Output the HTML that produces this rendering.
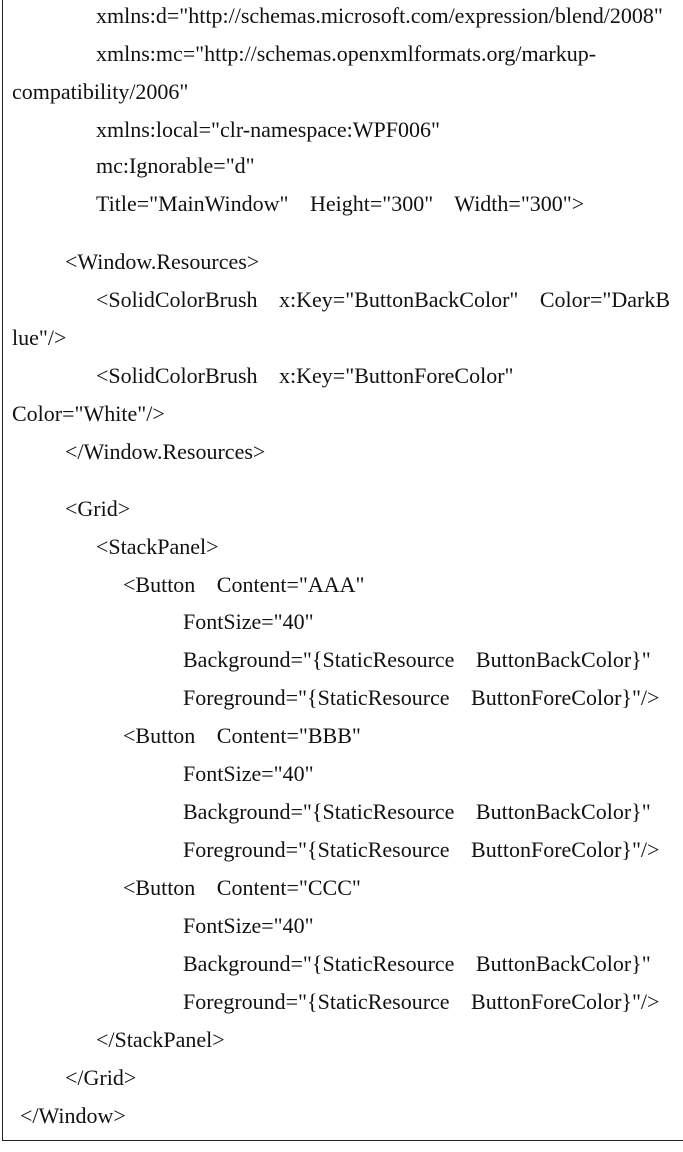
<!DOCTYPE html>
<html><head><meta charset="utf-8"><style>
html,body{margin:0;padding:0;background:#fff;}
body{width:683px;height:1152px;position:relative;overflow:hidden;font-family:"Liberation Serif","Times New Roman",serif;font-size:22px;color:#111;}
.b{position:absolute;left:2px;top:-2px;width:690px;height:1142px;border-left:1px solid #222;border-bottom:1px solid #222;}
.l{position:absolute;white-space:pre;line-height:22px;word-spacing:16px;}
</style></head><body>
<div class="b"></div>
<div class="l" style="left:96px;top:5px">xmlns:d="http://schemas.microsoft.com/expression/blend/2008"</div>
<div class="l" style="left:96px;top:43px">xmlns:mc="http://schemas.openxmlformats.org/markup-</div>
<div class="l" style="left:12px;top:81px">compatibility/2006"</div>
<div class="l" style="left:96px;top:119px">xmlns:local="clr-namespace:WPF006"</div>
<div class="l" style="left:96px;top:155px">mc:Ignorable="d"</div>
<div class="l" style="left:96px;top:193px">Title="MainWindow" Height="300" Width="300"&gt;</div>
<div class="l" style="left:65px;top:251px">&lt;Window.Resources&gt;</div>
<div class="l" style="left:96px;top:289px">&lt;SolidColorBrush x:Key="ButtonBackColor" Color="DarkB</div>
<div class="l" style="left:12px;top:327px">lue"/&gt;</div>
<div class="l" style="left:96px;top:365px">&lt;SolidColorBrush x:Key="ButtonForeColor"</div>
<div class="l" style="left:12px;top:403px">Color="White"/&gt;</div>
<div class="l" style="left:65px;top:441px">&lt;/Window.Resources&gt;</div>
<div class="l" style="left:65px;top:498px">&lt;Grid&gt;</div>
<div class="l" style="left:96px;top:536px">&lt;StackPanel&gt;</div>
<div class="l" style="left:123px;top:574px">&lt;Button Content="AAA"</div>
<div class="l" style="left:183px;top:611px">FontSize="40"</div>
<div class="l" style="left:183px;top:649px">Background="{StaticResource ButtonBackColor}"</div>
<div class="l" style="left:183px;top:687px">Foreground="{StaticResource ButtonForeColor}"/&gt;</div>
<div class="l" style="left:123px;top:725px">&lt;Button Content="BBB"</div>
<div class="l" style="left:183px;top:763px">FontSize="40"</div>
<div class="l" style="left:183px;top:801px">Background="{StaticResource ButtonBackColor}"</div>
<div class="l" style="left:183px;top:839px">Foreground="{StaticResource ButtonForeColor}"/&gt;</div>
<div class="l" style="left:123px;top:877px">&lt;Button Content="CCC"</div>
<div class="l" style="left:183px;top:915px">FontSize="40"</div>
<div class="l" style="left:183px;top:953px">Background="{StaticResource ButtonBackColor}"</div>
<div class="l" style="left:183px;top:991px">Foreground="{StaticResource ButtonForeColor}"/&gt;</div>
<div class="l" style="left:96px;top:1029px">&lt;/StackPanel&gt;</div>
<div class="l" style="left:65px;top:1067px">&lt;/Grid&gt;</div>
<div class="l" style="left:20px;top:1105px">&lt;/Window&gt;</div>
</body></html>
